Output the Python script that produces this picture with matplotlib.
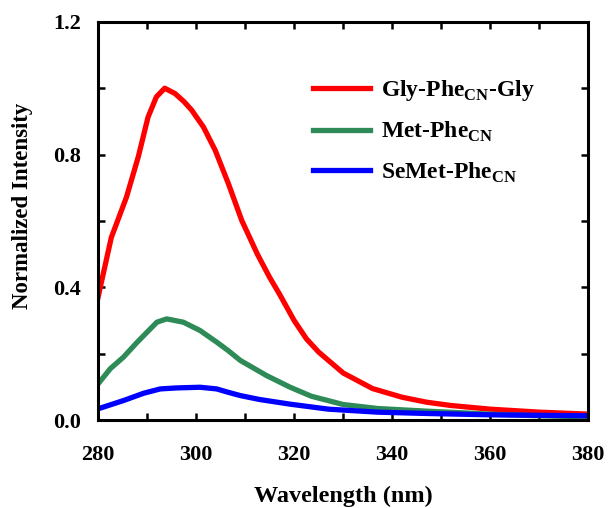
import matplotlib.pyplot as plt
from matplotlib.ticker import MultipleLocator, FormatStrFormatter

plt.rcParams['font.family'] = 'Liberation Serif'
plt.rcParams['font.weight'] = 'bold'
plt.rcParams['mathtext.fontset'] = 'custom'
plt.rcParams['mathtext.rm'] = 'Liberation Serif:bold'
plt.rcParams['mathtext.bf'] = 'Liberation Serif:bold'

# emission spectra, normalized to the Gly-PheCN-Gly maximum
wl_gly = [280, 282.7, 285.8, 288.2, 290.2, 291.9, 293.6, 295.7, 297.5, 299.1, 301.5, 303.9,
          306.6, 309.3, 312.5, 315, 317, 320, 322.5, 325, 330, 336, 342, 347, 352, 360, 370, 380]
int_gly = [0.37, 0.55, 0.672, 0.793, 0.913, 0.974, 1.0, 0.984, 0.96, 0.934, 0.883, 0.813,
           0.712, 0.602, 0.50, 0.43, 0.38, 0.30, 0.245, 0.205, 0.142, 0.095, 0.069, 0.054,
           0.044, 0.033, 0.024, 0.018]

wl_met = [280, 282.5, 285.2, 288, 290, 292, 294, 297.4, 300.8, 304.2, 306.5, 309, 314.4,
          319.2, 323.5, 330, 337, 347, 360, 370, 380]
int_met = [0.109, 0.155, 0.19, 0.235, 0.265, 0.295, 0.305, 0.295, 0.27, 0.235, 0.21, 0.18,
           0.134, 0.099, 0.072, 0.047, 0.035, 0.027, 0.018, 0.013, 0.010]

wl_semet = [280, 285.2, 289.3, 292.7, 296, 300.8, 304.2, 306.5, 309, 313, 319.2, 327,
            337, 347, 360, 380]
int_semet = [0.034, 0.059, 0.081, 0.094, 0.097, 0.099, 0.094, 0.084, 0.074, 0.062, 0.048,
             0.033, 0.024, 0.020, 0.016, 0.013]

fig = plt.figure(figsize=(6.09, 5.08), dpi=100)
ax = fig.add_axes([0.161, 0.173, 0.805, 0.784])

ax.plot(wl_gly, int_gly, color='#FF0000', lw=3.8, label=r'Gly-Phe$_{\rm CN}$-Gly')
ax.plot(wl_met, int_met, color='#2E8B57', lw=3.8, label=r'Met-Phe$_{\rm CN}$')
ax.plot(wl_semet, int_semet, color='#0000FF', lw=3.8, label=r'SeMet-Phe$_{\rm CN}$')

ax.set_xlim(280, 380)
ax.set_ylim(0, 1.2)
ax.xaxis.set_major_locator(MultipleLocator(20))
ax.xaxis.set_minor_locator(MultipleLocator(10))
ax.yaxis.set_major_locator(MultipleLocator(0.4))
ax.yaxis.set_minor_locator(MultipleLocator(0.2))
ax.yaxis.set_major_formatter(FormatStrFormatter('%.1f'))
ax.tick_params(which='both', direction='in', top=True, right=True, width=1.8,
               length=5, labelsize=16)
ax.tick_params(axis='x', which='major', pad=18)
ax.tick_params(axis='y', which='major', pad=12.5)
for sp in ax.spines.values():
    sp.set_linewidth(2.2)

ax.set_xlabel('Wavelength (nm)', fontsize=17.5, fontweight='bold', labelpad=15)
ax.set_ylabel('Normalized Intensity', fontsize=16.5, fontweight='bold')
ax.yaxis.set_label_coords(-0.133, 0.538)

ax.legend(loc='upper left', bbox_to_anchor=(0.42, 0.882), frameon=False, fontsize=17,
          handlelength=2.4, labelspacing=0.7, handletextpad=0.45, borderpad=0.4,
          borderaxespad=0)

fig.savefig('out.png', dpi=100)
